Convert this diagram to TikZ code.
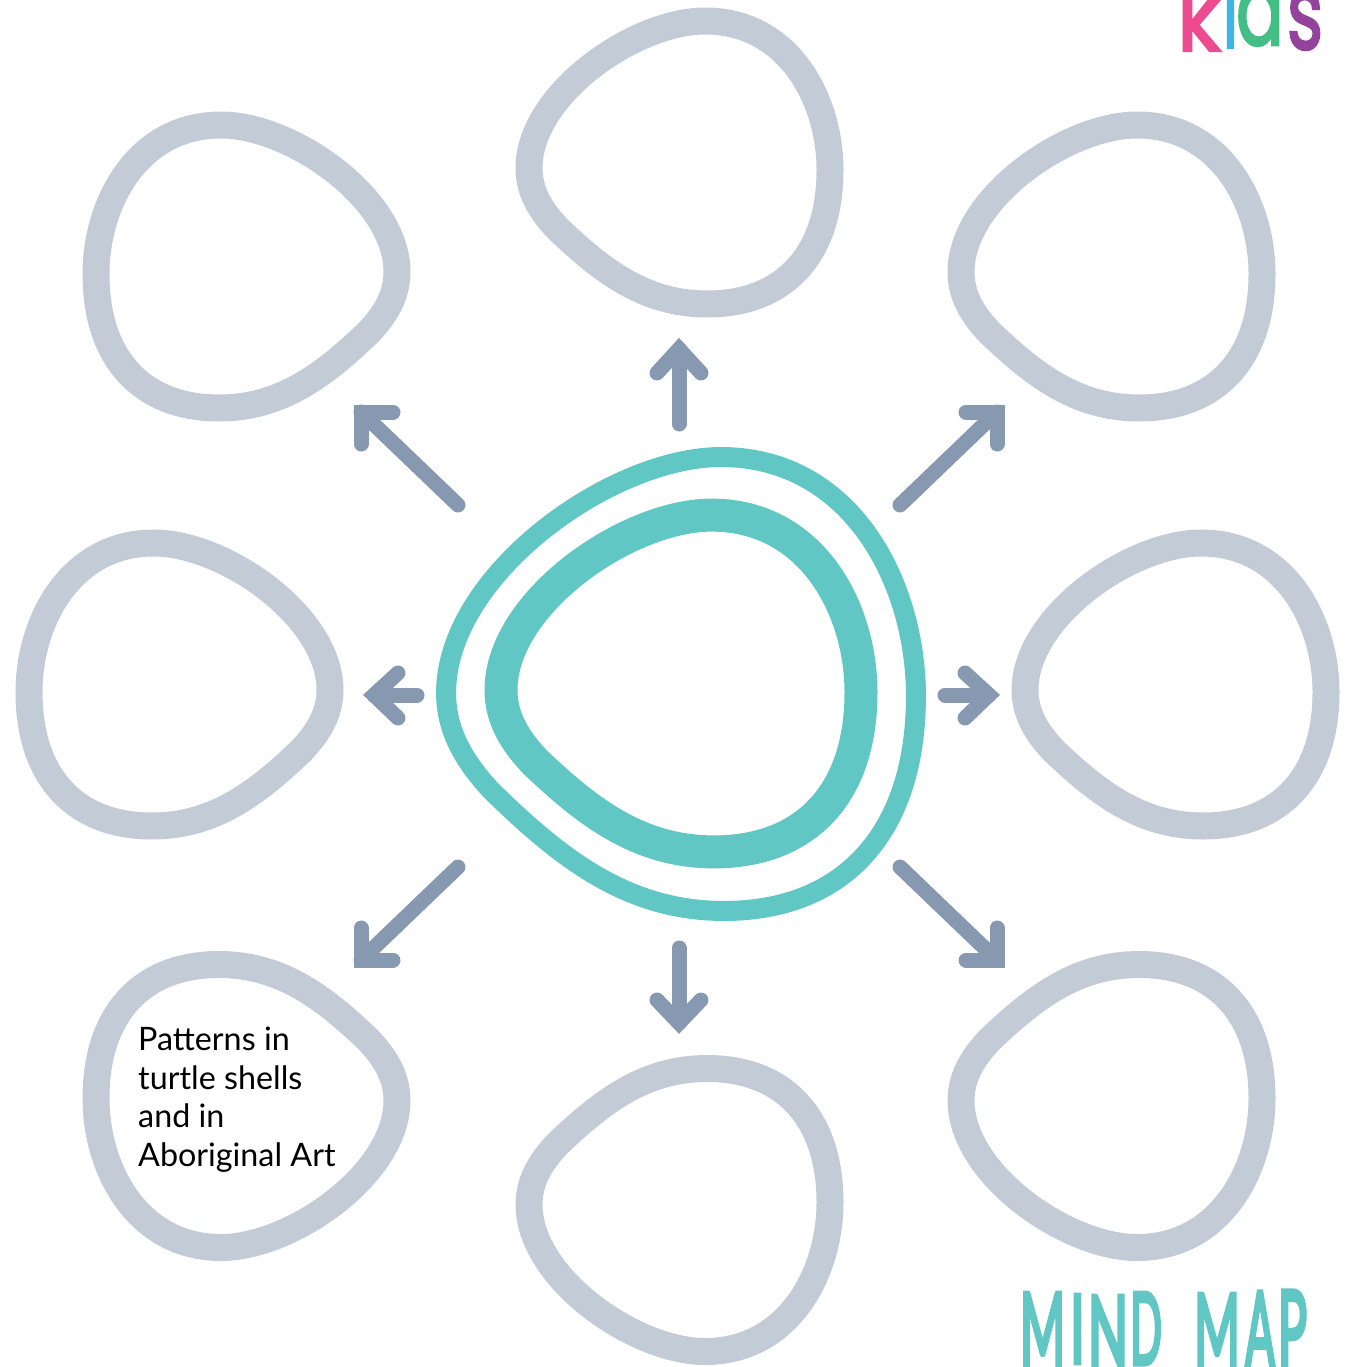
\documentclass[tikz,border=0pt]{standalone}
\usepackage{graphicx}
\usepackage{fontspec}
\setmainfont{Lato}
\newfontfamily\kidfont[FakeBold=2.5]{Poppins}
\newfontfamily\mapfont[FakeBold=5]{Lato}
\definecolor{blobgray}{HTML}{C3CBD7}
\definecolor{arrowblue}{HTML}{8799B0}
\definecolor{teal1}{HTML}{60C7C5}
\definecolor{kpink}{HTML}{EE4A8F}
\definecolor{kblue}{HTML}{3DB5E6}
\definecolor{kgreen}{HTML}{43BF85}
\definecolor{kpurple}{HTML}{93439B}
\tikzset{
  blobline/.style={draw=blobgray,line width=27pt},
  coreline/.style={draw=teal1},
  stem/.style={draw=arrowblue,line width=15pt,line cap=round},
  head/.style={draw=arrowblue,line width=15pt,line cap=round,line join=miter,miter limit=10},
  letter/.style={inner sep=0pt,outer sep=0pt},
  pics/blob/.style={code={
    \path[pic actions] (-150.5,5.5)
      .. controls (-150.5,-68) and (-45,-141.5) .. (25.5,-141.5)
      .. controls (110,-141.5) and (150.5,-62) .. (150.5,7.5)
      .. controls (150.5,92) and (105,141.5) .. (27.5,141.5)
      .. controls (-35,141.5) and (-78,108) .. (-122,66)
      .. controls (-138,49) and (-150.5,30) .. (-150.5,5.5) -- cycle;
  }}
}
\begin{document}
\begin{tikzpicture}[x=1pt,y=-1pt]
\useasboundingbox (0,0) rectangle (1352,1367);
\clip (0,0) rectangle (1352,1367);
% outer blobs
\pic[blobline,shift={(679.5,162.5)}] {blob};
\pic[blobline,shift={(1111.5,266.5)}] {blob};
\pic[blobline,shift={(1175.5,684.5)}] {blob};
\pic[blobline,shift={(1111.5,1106)},yscale=-1] {blob};
\pic[blobline,shift={(679.5,1210)},yscale=-1] {blob};
\pic[blobline,shift={(246.5,1106)},xscale=-1,yscale=-1] {blob};
\pic[blobline,shift={(179.5,684.5)},xscale=-1] {blob};
\pic[blobline,shift={(246.5,266.5)},xscale=-1] {blob};
% centre
\pic[coreline,line width=20pt,shift={(681,684)},xscale=1.561,yscale=1.604] {blob};
\pic[coreline,line width=33pt,shift={(681,683.5)},xscale=1.196,yscale=1.19] {blob};
% connector ends
\coordinate (ns) at (679,424); \coordinate (nt) at (679,349);
\coordinate (na) at (657,373); \coordinate (nb) at (701,373);
\coordinate (ss) at (679,948); \coordinate (st) at (679,1023);
\coordinate (sa) at (657,1000); \coordinate (sb) at (701,1000);
\coordinate (ws) at (417,695); \coordinate (wt) at (374,695);
\coordinate (wa) at (398,673); \coordinate (wb) at (398,718);
\coordinate (es) at (945,695); \coordinate (et) at (989,695);
\coordinate (ea) at (965,673); \coordinate (eb) at (965,718);
\coordinate (nws) at (458,505); \coordinate (nwt) at (361,412);
\coordinate (nwa) at (393,412); \coordinate (nwb) at (361,444);
\coordinate (nes) at (900,505); \coordinate (net) at (997,412);
\coordinate (nea) at (966,412); \coordinate (neb) at (997,444);
\coordinate (sws) at (458,867); \coordinate (swt) at (361,960);
\coordinate (swa) at (393,960); \coordinate (swb) at (361,928);
\coordinate (ses) at (900,867); \coordinate (set) at (997,960);
\coordinate (sea) at (966,960); \coordinate (seb) at (997,928);
\foreach \k in {n,s,w,e,nw,ne,sw,se}{
  \draw[stem] (\k s) -- (\k t);
  \draw[head] (\k a) -- (\k t) -- (\k b);
}
% text
\node[inner sep=0pt,anchor=north west,align=left,font=\fontsize{32.3}{38.5}\selectfont] (note) at (138,1027)
  {Patterns in\\turtle shells\\and in\\Aboriginal Art};
% kids
\node[letter,anchor=south west,text=kpink] (kk) at (1177,51) {\resizebox{44pt}{70pt}{\kidfont k}};
\node[letter,anchor=south west,text=kblue] (ki) at (1223,48) {\resizebox{15pt}{70pt}{\kidfont i}};
\node[letter,anchor=south west,text=kgreen] (ka) at (1236,46) {\resizebox{48pt}{58pt}{\kidfont a}};
\node[letter,anchor=south west,text=kpurple] (ks) at (1287,50) {\resizebox{36pt}{58pt}{\kidfont s}};
% mind map
\node[letter,anchor=north west,text=teal1] (m1) at (1020,1293) {\resizebox{45pt}{72pt}{\mapfont M}};
\node[letter,anchor=north west,text=teal1] (i1) at (1070,1295) {\resizebox{15pt}{68pt}{\mapfont I}};
\node[letter,anchor=north west,text=teal1] (n1) at (1088,1296) {\resizebox{40pt}{72pt}{\mapfont N}};
\node[letter,anchor=north west,text=teal1] (d1) at (1130,1293) {\resizebox{32pt}{71pt}{\mapfont D}};
\node[letter,anchor=north west,text=teal1] (m2) at (1194,1294) {\resizebox{46pt}{71pt}{\mapfont M}};
\node[letter,anchor=north west,text=teal1] (a2) at (1245,1292) {\resizebox{30pt}{76pt}{\mapfont A}};
\node[letter,anchor=north west,text=teal1] (p2) at (1278,1291) {\resizebox{29pt}{76pt}{\mapfont P}};
\end{tikzpicture}
\end{document}
